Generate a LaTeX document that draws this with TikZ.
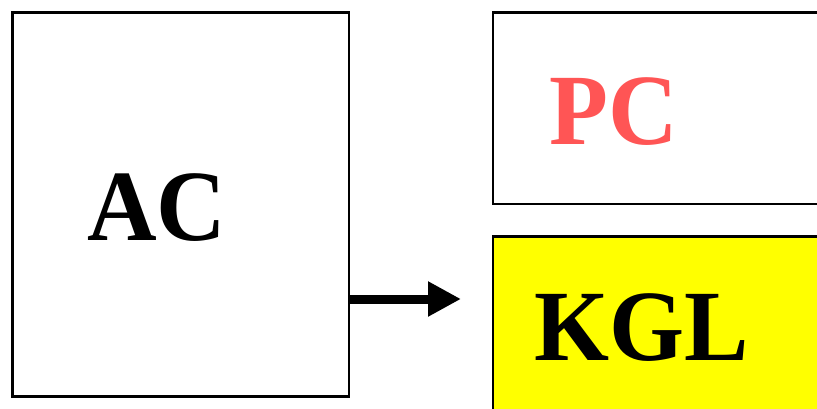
\documentclass[tikz,border=0pt]{standalone}
\usepackage{fontspec}
\newfontfamily\lbfont[FakeStretch=0.955]{Liberation Serif}
\usetikzlibrary{arrows.meta}
\definecolor{pcred}{RGB}{255,85,85}
\definecolor{kglyellow}{RGB}{255,255,0}
\tikzset{
  boxnode/.style={draw=black, line width=2.3pt, rectangle, inner sep=0pt, outer sep=0pt, anchor=north west},
  lbl/.style={inner sep=0pt, anchor=base, font=\lbfont\bfseries\fontsize{101pt}{110pt}\selectfont},
  bigarrow/.style={line width=9pt, -{Triangle[length=33pt,width=33pt]}}
}
\begin{document}
\begin{tikzpicture}[x=1pt,y=-1pt]
\useasboundingbox (0,0) rectangle (817,408);
\clip (0,0) rectangle (817,408);
\node[boxnode, minimum width=336.5pt, minimum height=384pt] (ac) at (12.5,12.5) {};
\node[boxnode, minimum width=400pt, minimum height=191.5pt] (pc) at (493,12.5) {};
\node[boxnode, fill=kglyellow, minimum width=400pt, minimum height=200pt] (kgl) at (493,236.5) {};
\node[lbl] (actext) at (157,240) {AC};
\node[lbl, text=pcred] (pctext) at (614,144) {PC};
\node[lbl] (kgltext) at (641.5,360) {KGL};
\coordinate (tipend) at (461,299);
\draw[bigarrow] (ac.east |- tipend) -- (tipend);
\end{tikzpicture}
\end{document}
